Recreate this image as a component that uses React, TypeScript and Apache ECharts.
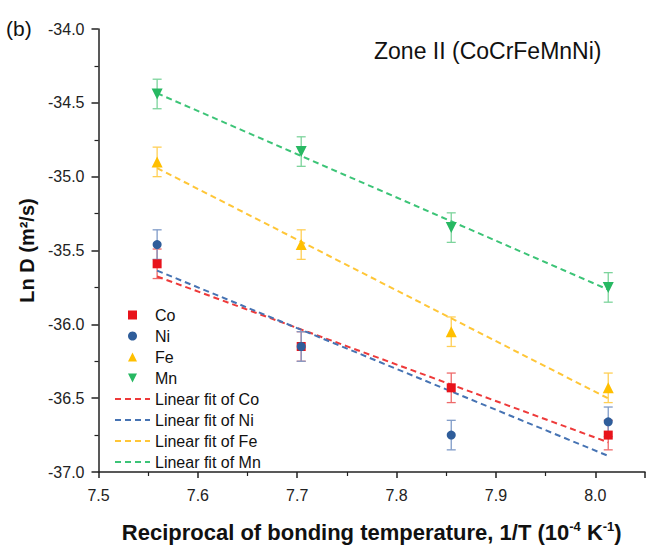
import React, { useEffect, useRef } from "react";
import * as echarts from "echarts";

// ---- data ----
const xVals = [7.559, 7.704, 7.855, 8.013];
const coVals = [-35.59, -36.15, -36.43, -36.75];
const niVals = [-35.46, -36.15, -36.75, -36.66];
const feVals = [-34.9, -35.46, -36.05, -36.43];
const mnVals = [-34.44, -34.83, -35.345, -35.75];
const coErr = [0.1, 0.1, 0.1, 0.1];
const niErr = [0.1, 0.1, 0.1, 0.1];
const feErr = [0.1, 0.1, 0.1, 0.1];
const mnErr = [0.1, 0.1, 0.1, 0.1];
const fitX = [7.559, 8.013];
const coFit = [-35.676, -36.799];
const niFit = [-35.636, -36.891];
const feFit = [-34.942, -36.502];
const mnFit = [-34.435, -35.765];
const xTicks = [7.5, 7.6, 7.7, 7.8, 7.9, 8.0];
const yTicks = [-37.0, -36.5, -36.0, -35.5, -35.0, -34.5, -34.0];

const FONT = '"Liberation Sans", Arial, Helvetica, sans-serif';

const SQUARE = "path://M0,0L10,0L10,10L0,10Z";
const TRI_UP = "path://M5,0L10,10L0,10Z";
const TRI_DOWN = "path://M0,0L10,0L5,10Z";

const pts = (vals: number[]) => xVals.map((x, i) => [x, vals[i]]);
const errData = (vals: number[], err: number[]) =>
  xVals.map((x, i) => [x, vals[i] - err[i], vals[i] + err[i]]);
const fitData = (vals: number[]) => fitX.map((x, i) => [x, vals[i]]);

const errSeries = (name: string, vals: number[], err: number[], color: string) => ({
  name,
  type: "custom",
  data: errData(vals, err),
  encode: { x: 0, y: [1, 2] },
  z: 2,
  renderItem: (params: any, api: any) => {
    const x = api.value(0);
    const lo = api.coord([x, api.value(1)]);
    const hi = api.coord([x, api.value(2)]);
    const w = 4.5;
    const style = { stroke: color, lineWidth: 1.3 };
    return {
      type: "group",
      children: [
        { type: "line", shape: { x1: lo[0], y1: lo[1], x2: hi[0], y2: hi[1] }, style },
        { type: "line", shape: { x1: lo[0] - w, y1: lo[1], x2: lo[0] + w, y2: lo[1] }, style },
        { type: "line", shape: { x1: hi[0] - w, y1: hi[1], x2: hi[0] + w, y2: hi[1] }, style },
      ],
    };
  },
});

const fitSeries = (name: string, vals: number[], color: string) => ({
  name,
  type: "line",
  data: fitData(vals),
  symbol: "none",
  z: 3,
  lineStyle: { color, width: 2, type: [6, 4] },
  itemStyle: { color, opacity: 0 },
});

const scatterSeries = (name: string, vals: number[], color: string, symbol: string, size: number) => ({
  name,
  type: "scatter",
  data: pts(vals),
  symbol,
  symbolSize: size,
  z: 4,
  itemStyle: { color, opacity: 1 },
});

export default function App() {
  const ref = useRef<HTMLDivElement>(null);
  useEffect(() => {
    if (!ref.current) return;
    const chart = echarts.init(ref.current, null, { renderer: "svg" });
    const axisColor = "#222";
    chart.setOption({
      animation: false,
      backgroundColor: "#fff",
      grid: { left: 98.5, top: 29, right: 7, bottom: 65 },
      xAxis: {
        type: "value",
        min: 7.5,
        max: 8.05,
        interval: 0.1,
        name: "Reciprocal of bonding temperature, 1/T (10{s|-4} K{s|-1})",
        nameLocation: "middle",
        nameGap: 48,
        nameTextStyle: {
          fontFamily: FONT,
          fontSize: 22,
          fontWeight: "bold",
          color: "#111",
          lineHeight: 24,
          rich: {
            s: { fontFamily: FONT, fontSize: 13, fontWeight: "bold", color: "#111", verticalAlign: "top", lineHeight: 24 },
          },
        },
        axisLine: { lineStyle: { color: axisColor, width: 1.5 } },
        axisTick: { show: true, inside: false, length: 6, lineStyle: { color: axisColor, width: 1.5 } },
        minorTick: { show: true, splitNumber: 2, length: 4, lineStyle: { color: axisColor, width: 1.2 } },
        axisLabel: {
          fontFamily: FONT,
          fontSize: 16,
          color: "#222",
          margin: 15,
          showMaxLabel: false,
          formatter: (v: number) => {
            const hit = xTicks.find((t) => Math.abs(t - v) < 1e-6);
            return hit === undefined ? "" : hit.toFixed(1);
          },
        },
        splitLine: { show: false },
      },
      yAxis: {
        type: "value",
        min: -37,
        max: -34,
        interval: 0.5,
        name: "Ln D (m²/s)",
        nameLocation: "middle",
        nameGap: 58,
        nameTextStyle: { fontFamily: FONT, fontSize: 20, fontWeight: "bold", color: "#111" },
        axisLine: { show: true, lineStyle: { color: axisColor, width: 1.5 } },
        axisTick: { show: true, inside: false, length: 7, lineStyle: { color: axisColor, width: 1.5 } },
        minorTick: { show: true, splitNumber: 2, length: 4, lineStyle: { color: axisColor, width: 1.2 } },
        axisLabel: {
          fontFamily: FONT,
          fontSize: 16,
          color: "#222",
          margin: 14,
          formatter: (v: number) => {
            const hit = yTicks.find((t) => Math.abs(t - v) < 1e-6);
            return hit === undefined ? "" : hit.toFixed(1);
          },
        },
        splitLine: { show: false },
      },
      legend: {
        orient: "vertical",
        left: 109,
        top: 302,
        itemWidth: 35,
        itemHeight: 9,
        itemGap: 5,
        symbolKeepAspect: true,
        textStyle: { fontFamily: FONT, fontSize: 16, color: "#111" },
        data: ["Co", "Ni", "Fe", "Mn", "Linear fit of Co", "Linear fit of Ni", "Linear fit of Fe", "Linear fit of Mn"],
      },
      graphic: [
        {
          type: "text",
          left: 6,
          top: 18,
          style: { text: "(b)", fontFamily: FONT, fontSize: 21, fill: "#111" },
        },
        {
          type: "text",
          left: 374,
          top: 39,
          style: { text: "Zone II (CoCrFeMnNi)", fontFamily: FONT, fontSize: 23, fill: "#111" },
        },
      ],
      series: [
        errSeries("Co err", coVals, coErr, "#ee6a6a"),
        errSeries("Ni err", niVals, niErr, "#7f9bc8"),
        errSeries("Fe err", feVals, feErr, "#ffcf55"),
        errSeries("Mn err", mnVals, mnErr, "#7dd49c"),
        fitSeries("Linear fit of Co", coFit, "#ee3a3a"),
        fitSeries("Linear fit of Ni", niFit, "#4673b3"),
        fitSeries("Linear fit of Fe", feFit, "#ffc637"),
        fitSeries("Linear fit of Mn", mnFit, "#3cc477"),
        scatterSeries("Co", coVals, "#e8131b", SQUARE, 9),
        scatterSeries("Ni", niVals, "#2f5d9a", "circle", 9),
        scatterSeries("Fe", feVals, "#ffbf00", TRI_UP, 11),
        scatterSeries("Mn", mnVals, "#27b862", TRI_DOWN, 11),
      ],
    });
    return () => chart.dispose();
  }, []);
  return (
    <div
      ref={ref}
      style={{ position: "absolute", left: 0, top: 0, width: 652, height: 549 }}
    />
  );
}
